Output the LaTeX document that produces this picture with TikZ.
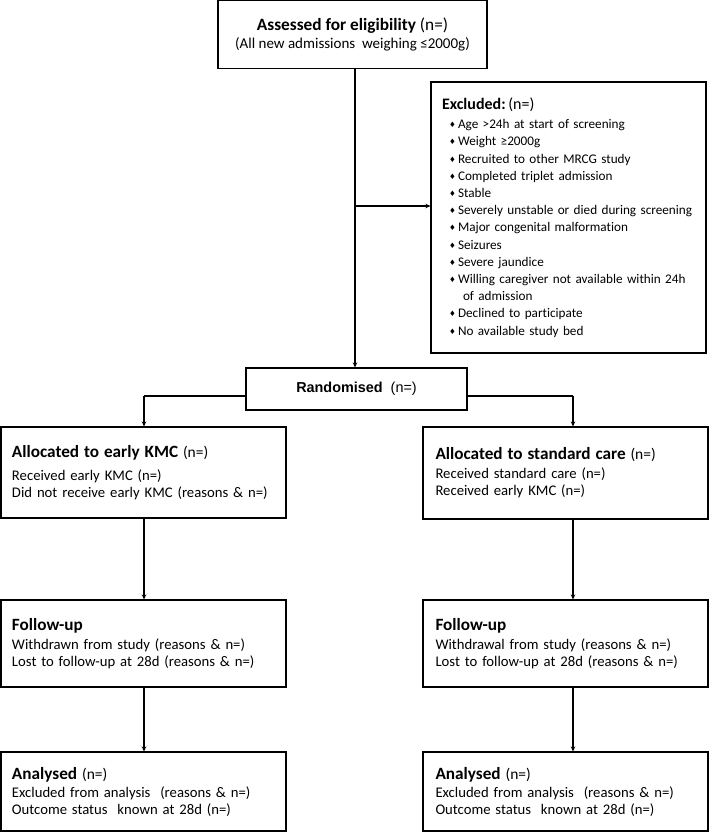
\documentclass[tikz,border=0pt]{standalone}
\usepackage{fontspec}
\setmainfont{Carlito}[Ligatures={NoCommon}]
\newfontfamily\arialfont{Liberation Sans}
\newfontfamily\symfont{DejaVu Sans}
\usetikzlibrary{arrows.meta}
\newcommand{\exitem}[1]{\hspace*{7pt}\makebox[9pt][l]{\raisebox{1pt}{\symfont\fontsize{7.5}{7.5}\selectfont ♦}}#1}
\newcommand{\ttl}[1]{{\fontsize{17.2}{17.2}\selectfont\bfseries #1}}
\newcommand{\ttn}{{\fontsize{15.5}{15.5}\selectfont(n=)}}
\begin{document}
\begin{tikzpicture}[x=1pt,y=-1pt,
  box/.style={draw, line width=1.1pt, rectangle, inner sep=0pt, align=left,
    font=\fontsize{14.7}{17}\selectfont},
  conn/.style={line width=1.1pt, -{Stealth[length=5pt,width=4.5pt]}},
  line/.style={line width=1.1pt}]
\useasboundingbox (0,0) rectangle (710,833);

% top
\node[box, minimum width=269pt, minimum height=68pt, align=center] (top) at (352.5,34.6)
  {{\fontsize{17.3}{17.3}\selectfont\textbf{Assessed for eligibility} (n=)}\\[1pt]
   {\fontsize{15}{15}\selectfont(All new admissions\ \ weighing ≤2000g)}};

% excluded
\node[box, minimum width=275pt, minimum height=271pt, text width=253pt,
      font=\fontsize{13.2}{17.2}\selectfont] (excl) at (568.5,217.5)
  {{\fontsize{16}{16}\selectfont\textbf{Excluded:}\,(n=)}\\[2pt]
   \exitem{Age >24h at start of screening}\\
   \exitem{Weight ≥2000g}\\
   \exitem{Recruited to other MRCG study}\\
   \exitem{Completed triplet admission}\\
   \exitem{Stable}\\
   \exitem{Severely unstable or died during screening}\\
   \exitem{Major congenital malformation}\\
   \exitem{Seizures}\\
   \exitem{Severe jaundice}\\
   \exitem{Willing caregiver not available within 24h}\\
   \hspace*{21pt}of admission\\
   \exitem{Declined to participate}\\
   \exitem{No available study bed}};

% randomised
\node[box, minimum width=221pt, minimum height=42pt, align=center,
      font=\arialfont\fontsize{14.4}{16}\selectfont] (rand) at (356.5,389)
  {\textbf{Randomised}\ \ (n=)};

% allocated
\node[box, minimum width=285pt, minimum height=91pt, text width=263pt] (allocL) at (143.5,472.5)
  {\ttl{Allocated to early KMC} \ttn\\[6pt]
   Received early KMC (n=)\\
   Did not receive early KMC (reasons \& n=)};
\node[box, minimum width=285pt, minimum height=92pt, text width=260pt] (allocR) at (565.5,473)
  {\ttl{Allocated to standard care} \ttn\\[2pt]
   Received standard\ care (n=)\\
   Received early KMC (n=)};

% follow-up
\node[box, minimum width=285pt, minimum height=87pt, text width=263pt] (fuL) at (143.5,643.5)
  {\ttl{Follow-up}\\[2pt]
   Withdrawn from study (reasons \& n=)\\
   Lost to follow-up at 28d (reasons \& n=)};
\node[box, minimum width=285pt, minimum height=87pt, text width=260pt] (fuR) at (565.5,643.5)
  {\ttl{Follow-up}\\[2pt]
   Withdrawal from study (reasons \& n=)\\
   Lost to follow-up at 28d (reasons \& n=)};

% analysed
\node[box, minimum width=285pt, minimum height=79pt, text width=263pt] (anL) at (143.5,791.5)
  {\ttl{Analysed} \ttn\\[1pt]
   Excluded from analysis\ \ (reasons \& n=)\\
   Outcome status\ \ known at 28d (n=)};
\node[box, minimum width=285pt, minimum height=79pt, text width=260pt] (anR) at (565.5,791.5)
  {\ttl{Analysed} \ttn\\[1pt]
   Excluded from analysis\ \ (reasons \& n=)\\
   Outcome status\ \ known at 28d (n=)};

% connectors
\coordinate (cM) at (355,206);
\coordinate (cL) at (144,396);
\coordinate (cR) at (573,396);
\draw[conn] (top.south -| cM) -- (rand.north -| cM);
\draw[conn] (cM) -- (cM -| excl.west);
\draw[line] (rand.west |- cL) -- (cL);
\draw[conn] (cL) -- (cL |- allocL.north);
\draw[line] (rand.east |- cR) -- (cR);
\draw[conn] (cR) -- (cR |- allocR.north);
\draw[conn] (allocL.south -| cL) -- (fuL.north -| cL);
\draw[conn] (allocR.south -| cR) -- (fuR.north -| cR);
\draw[conn] (fuL.south -| cL) -- (anL.north -| cL);
\draw[conn] (fuR.south -| cR) -- (anR.north -| cR);
\end{tikzpicture}
\end{document}
